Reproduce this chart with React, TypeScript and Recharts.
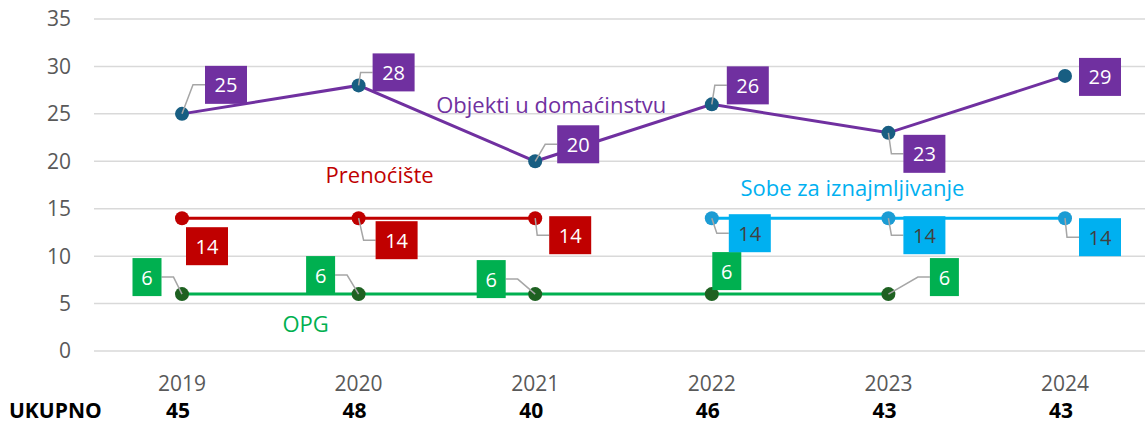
import React from 'react'
import {
  LineChart,
  Line,
  XAxis,
  YAxis,
  CartesianGrid,
  LabelList,
  ReferenceDot,
} from 'recharts'

const years = ['2019', '2020', '2021', '2022', '2023', '2024']
const objekti = [25, 28, 20, 26, 23, 29]
const prenociste = [14, 14, 14, null, null, null]
const sobe = [null, null, null, 14, 14, 14]
const opg = [6, 6, 6, 6, 6, null]
const ukupno = [45, 48, 40, 46, 43, 43]
const yTicks = [0, 5, 10, 15, 20, 25, 30, 35]

const data = years.map((year, i) => ({
  year,
  objekti: objekti[i],
  prenociste: prenociste[i],
  sobe: sobe[i],
  opg: opg[i],
}))

// label box placement relative to each point (layout, not data)
type Place = { dx: number; dy: number; lead: boolean }
const objektiPlace: Place[] = [
  { dx: 44, dy: -29, lead: true },
  { dx: 35, dy: -13, lead: true },
  { dx: 43, dy: -17, lead: true },
  { dx: 36, dy: -19, lead: true },
  { dx: 36, dy: 21, lead: true },
  { dx: 35, dy: 1, lead: false },
]
const prenocistePlace: Place[] = [
  { dx: 25, dy: 28, lead: false },
  { dx: 38, dy: 22, lead: true },
  { dx: 35, dy: 17, lead: true },
]
const sobePlace: Place[] = [
  { dx: 0, dy: 0, lead: false },
  { dx: 0, dy: 0, lead: false },
  { dx: 0, dy: 0, lead: false },
  { dx: 38, dy: 15, lead: true },
  { dx: 36, dy: 17, lead: true },
  { dx: 35, dy: 19, lead: true },
]
const opgPlace: Place[] = [
  { dx: -35, dy: -17, lead: true },
  { dx: -38, dy: -19, lead: true },
  { dx: -44, dy: -15, lead: true },
  { dx: 15, dy: -23, lead: false },
  { dx: 56, dy: -17, lead: true },
]

const FONT = '"Open Sans", "Noto Sans", Arial, sans-serif'

function makeBoxLabel(places: Place[], fill: string, textColor: string) {
  return (props: any) => {
    const { value, index } = props
    const x = props.x ?? props.viewBox?.x
    const y = props.y ?? props.viewBox?.y
    if (value == null || x == null || y == null) return null
    const p = places[index]
    if (!p) return null
    const text = String(value)
    const w = text.length > 1 ? 42 : 29
    const h = 38
    const cx = x + p.dx
    const cy = y + p.dy
    let lead = null
    if (p.lead) {
      const edge = p.dx > 0 ? cx - w / 2 : cx + w / 2
      const ex = p.dx > 0 ? edge - 12 : edge + 12
      lead = (
        <polyline
          points={`${x},${y} ${ex},${cy} ${edge},${cy}`}
          fill="none"
          stroke="#A6A6A6"
          strokeWidth={1.5}
        />
      )
    }
    return (
      <g>
        {lead}
        <rect x={cx - w / 2} y={cy - h / 2} width={w} height={h} fill={fill} />
        <text
          x={cx}
          y={cy}
          textAnchor="middle"
          dominantBaseline="central"
          fill={textColor}
          fontSize={20}
          fontFamily={FONT}
        >
          {text}
        </text>
      </g>
    )
  }
}

function nameShape(text: string, color: string, dx: number) {
  return (props: any) => (
    <text
      x={props.cx + dx}
      y={props.cy}
      textAnchor="middle"
      dominantBaseline="central"
      fill={color}
      fontSize={22}
      fontFamily={FONT}
    >
      {text}
    </text>
  )
}

const YearTick = (props: any) => {
  const { x, y, payload, index } = props
  return (
    <g>
      <text x={x} y={y + 24} textAnchor="middle" dominantBaseline="central" fill="#595959" fontSize={21} fontFamily={FONT}>
        {payload.value}
      </text>
      <text x={x - 4} y={y + 51} textAnchor="middle" dominantBaseline="central" fill="#000" fontSize={21} fontWeight="bold" fontFamily={FONT}>
        {ukupno[index]}
      </text>
      {index === 0 && (
        <text x={9} y={y + 51} textAnchor="start" dominantBaseline="central" fill="#000" fontSize={21} fontWeight="bold" fontFamily={FONT}>
          UKUPNO
        </text>
      )}
    </g>
  )
}

export default function App() {
  return (
    <div style={{ position: 'fixed', top: 0, left: 0, width: 1145, height: 423, overflow: 'hidden', background: '#fff' }}>
      <LineChart width={1153} height={423} data={data} margin={{ top: 19, right: 0, left: 0, bottom: 0 }}>
        <CartesianGrid vertical={false} stroke="#D9D9D9" strokeWidth={1.5} />
        <XAxis
          dataKey="year"
          axisLine={false}
          tickLine={false}
          height={72}
          interval={0}
          padding={{ left: 88, right: 88 }}
          tick={<YearTick />}
        />
        <YAxis
          domain={[0, 35]}
          ticks={yTicks}
          axisLine={false}
          tickLine={false}
          width={94}
          tickMargin={17}
          tick={{ fontSize: 21, fill: '#595959', fontFamily: FONT }}
        />
        <Line
          dataKey="opg"
          stroke="#00B050"
          strokeWidth={3}
          dot={{ r: 7, fill: '#1E6121', stroke: '#1E6121', strokeWidth: 0 }}
          isAnimationActive={false}
        >
          <LabelList dataKey="opg" content={makeBoxLabel(opgPlace, '#00B050', '#fff')} />
        </Line>
        <Line
          dataKey="prenociste"
          stroke="#C00000"
          strokeWidth={3}
          dot={{ r: 7, fill: '#C00000', stroke: '#C00000', strokeWidth: 0 }}
          isAnimationActive={false}
        >
          <LabelList dataKey="prenociste" content={makeBoxLabel(prenocistePlace, '#C00000', '#fff')} />
        </Line>
        <Line
          dataKey="sobe"
          stroke="#00B0F0"
          strokeWidth={3}
          dot={{ r: 7, fill: '#1C9CD4', stroke: '#1C9CD4', strokeWidth: 0 }}
          isAnimationActive={false}
        >
          <LabelList dataKey="sobe" content={makeBoxLabel(sobePlace, '#00B0F0', '#404040')} />
        </Line>
        <Line
          dataKey="objekti"
          stroke="#7030A0"
          strokeWidth={3}
          dot={{ r: 7, fill: '#185E82', stroke: '#185E82', strokeWidth: 0 }}
          isAnimationActive={false}
        >
          <LabelList dataKey="objekti" content={makeBoxLabel(objektiPlace, '#7030A0', '#fff')} />
        </Line>
        <ReferenceDot x="2021" y={26} r={0} shape={nameShape('Objekti u domaćinstvu', '#7030A0', 16)} />
        <ReferenceDot x="2020" y={18.66} r={0} shape={nameShape('Prenoćište', '#C00000', 21)} />
        <ReferenceDot x="2023" y={17.29} r={0} shape={nameShape('Sobe za iznajmljivanje', '#00B0F0', -36)} />
        <ReferenceDot x="2020" y={2.95} r={0} shape={nameShape('OPG', '#00B050', -53)} />
      </LineChart>
    </div>
  )
}
